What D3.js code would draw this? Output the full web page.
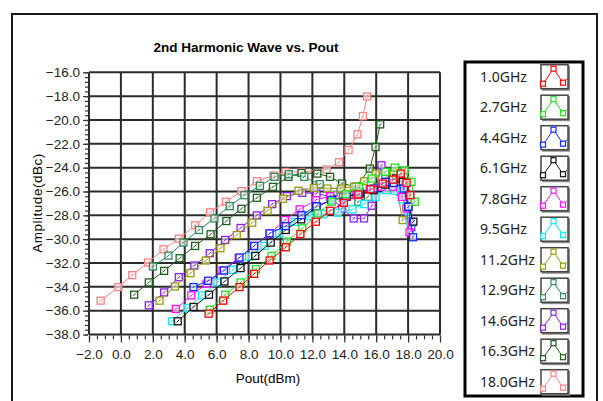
<!DOCTYPE html>
<meta charset="utf-8">
<title>2nd Harmonic Wave vs. Pout</title>
<style>
  body { margin: 0; background: #fff; }
  svg { display: block; font-family: "Liberation Sans", Arial, sans-serif; }
</style>
<body>
<script src="https://d3js.org/d3.v7.min.js"></script>
<script>
// frequencies shown in the legend
const freqs = ["1.0GHz", "2.7GHz", "4.4GHz", "6.1GHz", "7.8GHz", "9.5GHz",
               "11.2GHz", "12.9GHz", "14.6GHz", "16.3GHz", "18.0GHz"];

// [Pout dBm, amplitude dBc]
const f1_0 = [[5.5,-36.25],[6.41,-35.16],[7.43,-34.02],[8.35,-32.91],[9.32,-31.79],[10.33,-30.68],[11.25,-29.57],[12.22,-28.54],[13.11,-27.62],[13.98,-26.95],[14.88,-26.25],[15.65,-25.81],[16.4,-25.33],[17.05,-25.0],[17.54,-24.5],[17.9,-25.28],[18.14,-26.31]];
const f2_7 = [[5.57,-35.92],[6.53,-34.66],[7.5,-33.63],[8.47,-32.52],[9.44,-31.4],[10.4,-30.21],[11.37,-29.09],[12.34,-27.84],[13.23,-26.86],[14.1,-26.22],[14.92,-25.61],[15.72,-24.91],[16.57,-24.36],[17.17,-24.0],[17.78,-24.22],[18.21,-25.19],[18.43,-26.86]];
const f4_4 = [[4.55,-34.02],[5.47,-33.49],[6.46,-32.63],[7.43,-31.54],[8.35,-30.57],[9.32,-29.51],[10.33,-28.9],[11.32,-27.98],[12.26,-27.23],[13.18,-26.72],[14.1,-26.45],[14.95,-26.03],[15.84,-25.75],[16.57,-25.19],[17.1,-25.28],[17.73,-25.75],[18.02,-27.28],[18.31,-29.84]];
const f6_1 = [[3.56,-36.89],[4.55,-35.69],[5.52,-34.66],[6.49,-33.55],[7.5,-32.43],[8.42,-31.4],[9.39,-30.29],[10.33,-29.23],[11.3,-28.34],[12.26,-27.28],[13.23,-26.72],[14.15,-26.45],[15.0,-26.17],[15.84,-25.89],[16.57,-25.42],[17.25,-24.91],[17.66,-25.19],[18.02,-27.28],[18.33,-28.53]];
const f7_8 = [[3.44,-35.86],[4.41,-34.72],[5.37,-33.74],[6.37,-32.63],[7.38,-31.6],[8.35,-30.57],[9.32,-29.55],[10.28,-28.4],[11.2,-27.5],[12.22,-26.72],[13.11,-26.39],[13.91,-26.5],[14.76,-26.3],[15.6,-25.83],[16.33,-25.6],[17.05,-25.6],[17.61,-26.45],[17.9,-27.42],[18.09,-29.43]];
const f9_5 = [[3.2,-36.89],[4.17,-35.78],[5.08,-34.72],[6.05,-33.63],[7.02,-32.57],[8.03,-31.46],[9.0,-30.57],[9.92,-29.51],[10.89,-28.54],[11.81,-28.06],[12.7,-27.92],[13.6,-27.78],[14.51,-27.5],[15.24,-27.06],[15.96,-26.45],[16.64,-25.89],[17.17,-25.94],[17.66,-26.67],[17.97,-27.62],[18.15,-28.6]];
const f11_2 = [[2.42,-35.16],[3.39,-33.97],[4.36,-32.85],[5.33,-31.79],[6.24,-30.76],[7.26,-29.65],[8.23,-28.62],[9.19,-27.62],[10.16,-26.61],[11.13,-25.94],[12.1,-25.7],[12.94,-25.75],[13.79,-25.75],[14.63,-25.6],[15.24,-25.14],[15.96,-24.5],[16.57,-24.36],[17.1,-24.5],[17.66,-28.4]];
const f12_9 = [[2.01,-32.29],[2.98,-31.38],[3.92,-30.29],[4.89,-29.23],[5.86,-28.26],[6.82,-27.23],[7.74,-26.31],[8.71,-25.53],[9.63,-24.77],[10.52,-24.55],[11.49,-24.77],[12.46,-25.39],[13.33,-26.03],[14.15,-26.31],[14.88,-26.86],[15.48,-26.45],[16.09,-25.6],[16.57,-24.9],[17.05,-24.5],[17.54,-24.6],[17.9,-26.4],[18.14,-26.86]];
const f14_6 = [[1.75,-35.55],[2.71,-34.47],[3.63,-33.19],[4.6,-32.21],[5.57,-31.18],[6.53,-30.07],[7.5,-29.06],[8.52,-28.01],[9.48,-27.06],[10.4,-26.39],[11.37,-26.11],[12.26,-26.17],[13.14,-26.45],[13.86,-27.42],[14.59,-28.26],[15.24,-28.26],[15.72,-27.2],[16.33,-23.8],[17.0,-25.6],[17.5,-26.0],[18.0,-28.0],[18.2,-29.0]];
const f16_3 = [[0.83,-34.66],[1.75,-33.63],[2.71,-32.66],[3.68,-31.6],[4.65,-30.57],[5.62,-29.59],[6.61,-28.48],[7.55,-27.45],[8.52,-26.53],[9.53,-25.61],[10.5,-24.77],[11.32,-24.44],[12.31,-24.5],[13.11,-24.77],[13.86,-25.33],[14.75,-25.6],[15.6,-24.08],[15.96,-22.27],[16.25,-20.37]];
const f18_0 = [[-1.27,-35.16],[-0.16,-34.02],[0.71,-33.02],[1.7,-31.96],[2.67,-30.85],[3.63,-29.96],[4.65,-28.84],[5.59,-27.75],[6.58,-26.86],[7.55,-25.97],[8.52,-25.14],[9.56,-24.66],[10.33,-24.36],[11.32,-24.36],[12.89,-24.16],[13.67,-23.55],[14.27,-22.52],[14.83,-21.21],[15.17,-19.68],[15.43,-18.03]];

const seriesData = [f1_0, f2_7, f4_4, f6_1, f7_8, f9_5, f11_2, f12_9, f14_6, f16_3, f18_0];
const colors = ["#ff0000", "#22e022", "#0a2aff", "#111111", "#ff10ff", "#10e8f8",
                "#9a9a10", "#2e8b57", "#8a20f0", "#1c5e1c", "#ff8080"];

const xTicks = d3.range(-2, 20.01, 2);
const yTicks = d3.range(-38, -15.99, 2);

const W = 603, H = 401;
const svg = d3.select("body").append("svg")
  .attr("width", W).attr("height", H);

// outer frame
svg.append("rect")
  .attr("x", 12).attr("y", 14).attr("width", 585).attr("height", 400)
  .attr("fill", "#fff").attr("stroke", "#1a1a1a").attr("stroke-width", 2);

const x = d3.scaleLinear().domain([-2, 20]).range([89, 440]);
const y = d3.scaleLinear().domain([-38, -16]).range([334.5, 72.3]);

// title
svg.append("text")
  .attr("x", 246).attr("y", 52)
  .attr("text-anchor", "middle")
  .style("font-size", "13.5px").style("font-weight", "bold")
  .text("2nd Harmonic Wave vs. Pout");

// grid
const grid = svg.append("g").attr("stroke", "#2b2b2b").attr("stroke-width", 2);
grid.selectAll(".vx").data(xTicks).enter().append("line")
  .attr("x1", d => x(d)).attr("x2", d => x(d))
  .attr("y1", y(-16)).attr("y2", y(-38));
grid.selectAll(".hy").data(yTicks).enter().append("line")
  .attr("x1", x(-2)).attr("x2", x(20))
  .attr("y1", d => y(d)).attr("y2", d => y(d));

// x axis with minor ticks
const xAxis = d3.axisBottom(x).tickValues(xTicks).tickFormat(d3.format(".1f"))
  .tickSize(7).tickPadding(7);
const gx = svg.append("g").attr("transform", `translate(0,${y(-38) + 1})`).call(xAxis);
gx.select(".domain").remove();
svg.append("g").attr("transform", `translate(0,${y(-38) + 1})`)
  .call(d3.axisBottom(x).tickValues(d3.range(-2, 20.01, 0.5)).tickSize(4).tickFormat(""))
  .select(".domain").remove();

// y axis with minor ticks
const yAxis = d3.axisLeft(y).tickValues(yTicks).tickFormat(d3.format(".1f"))
  .tickSize(5).tickPadding(3);
const gy = svg.append("g").attr("transform", `translate(${x(-2) - 1},0)`).call(yAxis);
gy.select(".domain").remove();
svg.append("g").attr("transform", `translate(${x(-2) - 1},0)`)
  .call(d3.axisLeft(y).tickValues(d3.range(-38, -15.99, 0.4)).tickSize(3).tickFormat(""))
  .select(".domain").remove();

svg.selectAll(".tick text")
  .style("font-size", "13.5px").style("fill", "#222")
  .style("font-family", "'Liberation Sans', Arial, sans-serif");
svg.selectAll(".tick line").attr("stroke", "#333").attr("stroke-width", 1.2);

// axis titles
svg.append("text")
  .attr("transform", "translate(42,203) rotate(-90)")
  .attr("text-anchor", "middle")
  .style("font-size", "13.5px").style("letter-spacing", "0.5px")
  .text("Amplitude(dBc)");
svg.append("text")
  .attr("x", 268).attr("y", 383)
  .attr("text-anchor", "middle")
  .style("font-size", "13.5px")
  .text("Pout(dBm)");

// series (drawn last-to-first so low frequencies sit on top)
const line = d3.line().x(d => x(d[0])).y(d => y(d[1]));
const order = d3.range(seriesData.length).reverse();
const plot = svg.append("g");
order.forEach(i => {
  const g = plot.append("g");
  g.append("path").datum(seriesData[i])
    .attr("d", line).attr("fill", "none")
    .attr("stroke", colors[i]).attr("stroke-width", 1);
  const m = g.selectAll("g").data(seriesData[i]).enter().append("g")
    .attr("transform", d => `translate(${x(d[0])},${y(d[1])})`);
  m.append("rect").attr("x", -3.5).attr("y", -3.5).attr("width", 7).attr("height", 7)
    .attr("fill", "#fff").attr("fill-opacity", 0.6)
    .attr("stroke", colors[i]).attr("stroke-width", 1.3);
  m.append("line").attr("x1", -1.2).attr("y1", 1.2).attr("x2", 1.2).attr("y2", -1.2)
    .attr("stroke", colors[i]).attr("stroke-width", 1);
});

// legend
const legX = 465, legY = 62, legW = 118, legH = 334;
svg.append("rect")
  .attr("x", legX).attr("y", legY).attr("width", legW).attr("height", legH)
  .attr("fill", "#fff").attr("stroke", "#000").attr("stroke-width", 3);

const ly = d3.scalePoint().domain(freqs).range([76.7, 381.7]);
const items = svg.selectAll(".leg").data(freqs).enter().append("g")
  .attr("transform", d => `translate(0,${ly(d)})`);
items.append("text")
  .attr("x", 480).attr("y", 5)
  .style("font-size", "14px").style("fill", "#222")
  .style("font-family", "'Noto Sans', 'Open Sans', sans-serif")
  .text(d => d);
items.append("rect")
  .attr("x", 542).attr("y", -11).attr("width", 28).attr("height", 25)
  .attr("fill", "#888");
items.append("rect")
  .attr("x", 541).attr("y", -12).attr("width", 27).attr("height", 24)
  .attr("fill", "#fff").attr("stroke", "#444").attr("stroke-width", 1.5);
const icon = [[-1, 9], [2, 7], [12.5, -8], [22, 6], [26, 2]];
const iconLine = d3.line().x(d => 541 + d[0]).y(d => d[1]);
items.append("path")
  .attr("d", iconLine(icon))
  .attr("fill", "none")
  .attr("stroke", (d, i) => colors[i]).attr("stroke-width", 1);
[[2, 7], [12.5, -8], [22, 6]].forEach(p => {
  items.append("rect")
    .attr("x", 541 + p[0] - 2.5).attr("y", p[1] - 2.5)
    .attr("width", 5).attr("height", 5)
    .attr("fill", "#fff").attr("stroke", (d, i) => colors[i]).attr("stroke-width", 1.2);
});
</script>
</body>
